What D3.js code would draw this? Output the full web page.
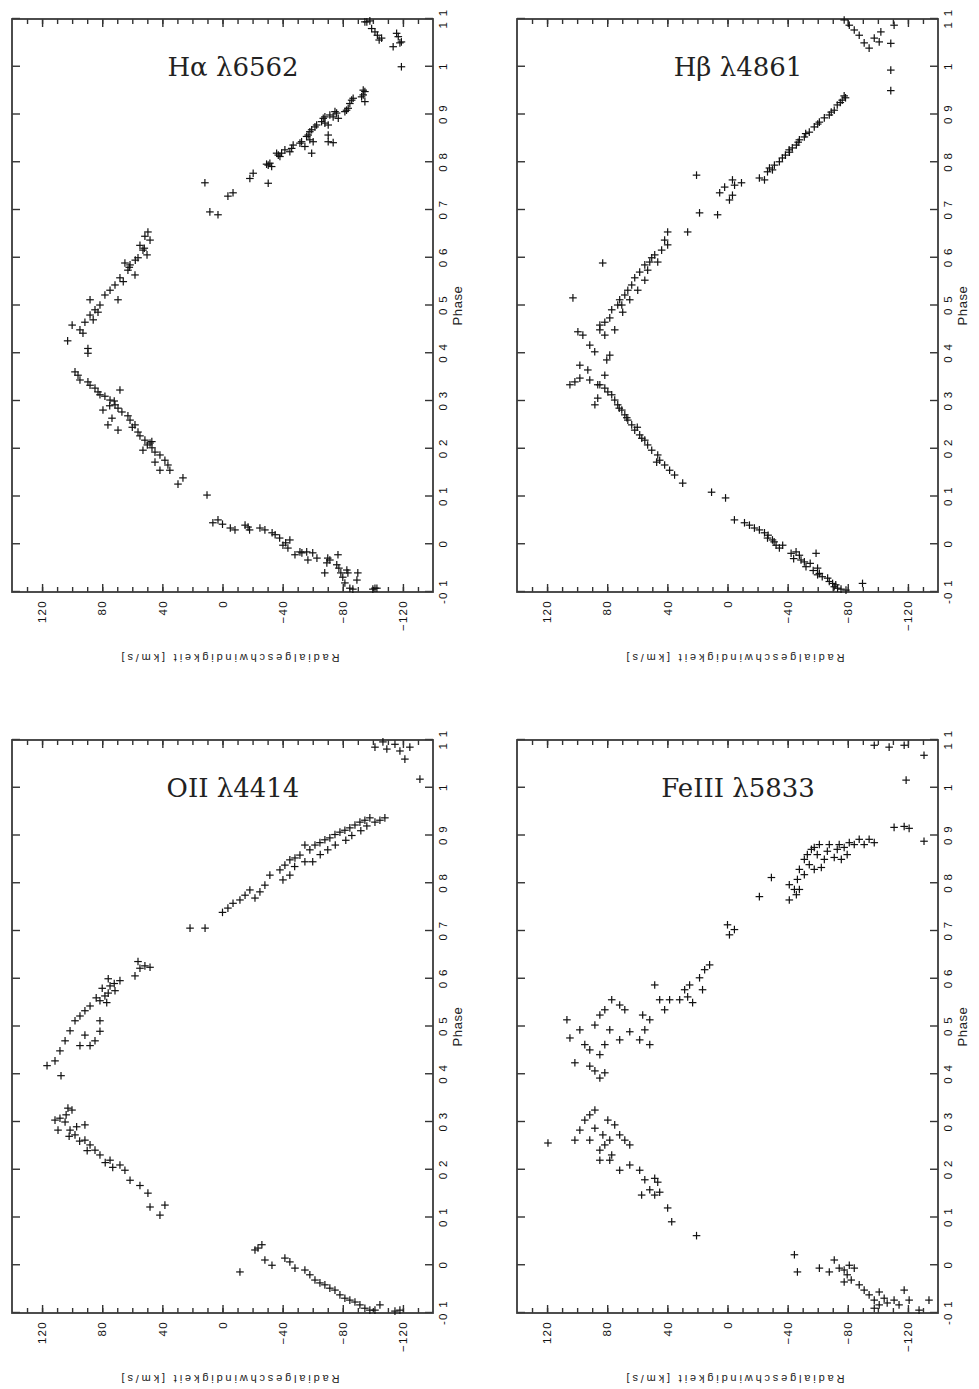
<!DOCTYPE html>
<html>
<head>
<meta charset="utf-8">
<script src="https://cdn.jsdelivr.net/npm/d3@7"></script>
<style>
body { margin: 0; background: #fff; }
.tick text { font-family: "Liberation Sans", Arial, sans-serif; font-size: 11.5px; letter-spacing: 1.3px; fill: #111; }
.tick line { stroke: #333; stroke-width: 1.4; }
.frame { fill: none; stroke: #3a3a3a; stroke-width: 1.8; }
.axlabel { font-family: "Liberation Sans", Arial, sans-serif; font-size: 11px; fill: #222; }
.title { font-family: "DejaVu Serif", serif; font-size: 26px; fill: #222; }
.pt { stroke: #111; stroke-width: 1.2; }
</style>
</head>
<body>
<div id="chart"></div>
<script>
var w = 979, h = 1389;
var pw = 573, ph = 421;   // phase extent, velocity extent (before rotation)

var phaseTicks = [-0.1, 0, 0.1, 0.2, 0.3, 0.4, 0.5, 0.6, 0.7, 0.8, 0.9, 1.0, 1.1];
var phaseLabels = ["-0 1", "0", "0 1", "0 2", "0 3", "0 4", "0 5", "0 6", "0 7", "0 8", "0 9", "1", "1 1"];
var velTicks = [120, 80, 40, 0, -40, -80, -120];
var velMinor = d3.range(-130, 140, 10);
var velDomain = [140, -140];
var phaseDomain = [-0.1, 1.1];
var titles = ["H\u03b1  \u03bb6562", "H\u03b2  \u03bb4861", "OII  \u03bb4414", "FeIII  \u03bb5833"];
var xLabel = "Phase", yLabel = "Radialgeschwindigkeit [km/s]";

// [phase, radial velocity km/s]
var haData = [
 [-0.002,-40.2],[0.003,-42],[-0.016,-51.5],[-0.018,-52.8],[-0.016,-56],[-0.033,-56.8],[-0.018,-60],[-0.029,-62.8],
 [-0.06,-68],[-0.039,-69.4],[-0.029,-70],[-0.033,-71.4],[-0.043,-76],[-0.022,-76.8],[-0.05,-77.4],[-0.06,-78.7],
 [-0.069,-80],[-0.081,-81.4],[-0.054,-82.7],[-0.06,-83.4],[-0.092,-84.7],[-0.094,-86.7],[-0.075,-89.4],[-0.06,-90],
 [-0.094,-100],[-0.092,-101.4],[-0.092,-102.7],
 [0.009,-44.8],[-0.008,-43.5],[-0.022,-48.2],[0.013,-38],[0.02,-35],[0.024,-33],[0.03,-28.2],[0.034,-24.9],
 [0.03,-18],[0.036,-17],[0.04,-15],[0.03,-8.3],[0.034,-5.2],[0.042,0],[0.051,3],[0.045,6.4],[0.103,10.3],
 [0.126,29.6],[0.139,26.3],[0.155,35],[0.166,36.3],[0.176,38.3],[0.187,41.6],[0.193,44.9],[0.202,46.9],
 [0.212,48.2],[0.218,51.6],[0.227,54.9],[0.235,56.2],[0.25,58.2],[0.26,61.5],[0.269,62.9],[0.277,66.9],
 [0.285,69.5],[0.292,71.5],[0.302,74.8],[0.31,78.2],[0.313,81.5],[0.319,82.8],[0.327,84.8],[0.333,88.1],
 [0.34,89.5],[0.344,94.8],[0.354,96.1],[0.361,98.1],[0.323,68.2],[0.264,73.5],[0.239,69.5],[0.25,76.2],
 [0.281,79.5],[0.197,52.9],[0.172,44.9],[0.155,41.6],[0.208,50],[0.215,47],[0.245,60],[0.29,75],[0.3,72],
 [0.426,103],[0.442,92.8],[0.4,89.5],[0.41,89.5],[0.459,100],
 [0.654,49.6],[0.645,51.6],[0.637,48.2],[0.626,54.9],[0.616,52.9],[0.606,50.2],[0.6,56.2],[0.585,61.5],
 [0.589,64.9],[0.574,62.9],[0.564,58.2],[0.558,68.2],[0.543,71.5],[0.532,74.8],[0.522,78.2],[0.512,69.5],
 [0.501,81.5],[0.491,84.8],[0.48,88.1],[0.465,91.5],[0.486,82.8],[0.512,88.1],[0.449,94.8],[0.47,86],
 [0.55,66],[0.595,58],[0.58,62],[0.62,52],
 [0.757,11.7],[0.696,8.4],[0.69,3],[0.729,-3.6],[0.736,-7],
 [0.951,-93.6],[0.948,-94.7],[0.941,-93.6],[0.937,-92.5],[0.927,-94.7],[0.934,-86.9],[0.93,-85.9],[0.923,-84.7],
 [0.913,-83.6],[0.909,-82.5],[0.906,-81.4],[0.903,-75.9],[0.906,-74.8],[0.892,-77],[0.895,-73.6],[0.899,-71.4],
 [0.895,-68.1],[0.892,-67],[0.885,-65.9],[0.878,-70.3],[0.882,-68.1],[0.878,-62.6],[0.874,-61.5],[0.868,-59.3],
 [0.864,-58.1],[0.857,-57],[0.854,-55.9],[0.847,-58.1],[0.843,-60.3],[0.857,-70.3],[0.843,-70.3],[0.841,-73.6],
 [0.819,-59.3],[0.833,-54.8],[0.843,-52.6],[0.84,-51.5],[0.836,-47],[0.822,-44.8],[0.829,-46],[0.826,-41.5],
 [0.819,-39.3],[0.815,-37.1],[0.819,-36],[0.812,-38.2],[0.798,-31.5],[0.794,-30.4],[0.796,-29.3],[0.791,-32.7],
 [0.756,-30.4],[0.777,-20.4],[0.766,-18.2],
 [1.094,-94.7],[1.094,-96],[1.096,-98],[1.08,-99.2],[1.073,-101.4],[1.066,-103],[1.056,-104.2],[1.06,-105.8],
 [1.042,-113.5],[1.07,-115.8],[1.063,-116.9],[1.05,-118],[1.052,-119],[1.0,-119]
];

var hbData = [
 [-0.002,-32.3],[-0.008,-34.5],[-0.002,-36.7],[-0.019,-42.3],[-0.016,-45.6],[-0.023,-47.8],[-0.033,-48.9],
 [-0.037,-51.1],[-0.047,-52.2],[-0.019,-58.9],[-0.05,-59.9],[-0.061,-61.1],[-0.064,-59.9],[-0.071,-66.6],
 [-0.078,-67.7],[-0.082,-69.9],[-0.089,-71],[-0.092,-73.2],[-0.094,-75.5],[-0.096,-78.8],[-0.082,-89.8],
 [-0.03,-44],[-0.04,-55],[-0.055,-57],[-0.068,-63],[-0.085,-72],
 [0.109,10.6],[0.097,1.3],[0.051,-4.6],[0.045,-11.3],[0.04,-14.6],[0.034,-17.9],[0.03,-21.2],[0.024,-24.6],
 [0.013,-26.6],[0.009,-29.9],[0.019,-27],[0.005,-31],
 [0.128,29.8],[0.145,35.2],[0.155,38.5],[0.166,41.8],[0.176,45.1],[0.187,46.4],[0.197,50.4],[0.208,53.1],
 [0.218,55],[0.229,58.4],[0.239,61.7],[0.25,63.7],[0.26,66.3],[0.271,68.3],[0.281,70.3],[0.292,73],
 [0.302,75],[0.313,77],[0.319,79.6],[0.327,81.6],[0.334,84.9],[0.172,47.1],[0.292,88.2],[0.306,86.3],
 [0.222,57],[0.245,60],[0.265,67],[0.285,72],
 [0.445,99.5],[0.438,96.2],[0.417,91.6],[0.403,88.3],[0.375,98.2],[0.365,92.9],[0.348,98.2],[0.344,91.6],
 [0.334,86.3],[0.34,101.5],[0.334,104.8],[0.354,81.6],[0.449,84.9],[0.438,81.6],[0.396,78.3],[0.386,80.3],
 [0.654,39.8],[0.637,41.8],[0.627,39.8],[0.616,43.8],[0.6,50.4],[0.591,51.7],[0.585,55],[0.574,53.1],
 [0.57,58.4],[0.558,61.7],[0.543,63.7],[0.532,66.3],[0.522,68.3],[0.512,71.7],[0.501,73],[0.491,77],
 [0.474,78.3],[0.465,81.6],[0.459,84.9],[0.449,75],[0.606,48.4],[0.591,46.4],[0.553,55],[0.532,59.7],
 [0.512,65],[0.501,70.3],[0.486,69.7],[0.589,83],[0.516,102.8],
 [0.757,-9.3],[0.752,-4.7],[0.748,1.9],[0.736,5.2],[0.731,-3.3],[0.721,-1.3],[0.69,6.6],[0.694,18.6],
 [0.773,20.6],[0.654,26.5],[0.763,-3.3],
 [0.939,-77.6],[0.93,-76.3],[0.92,-73],[0.909,-71],[0.899,-67.7],[0.893,-64.4],[0.884,-61.1],[0.874,-57.7],
 [0.863,-54.4],[0.853,-51.1],[0.847,-47.8],[0.836,-45.8],[0.83,-43.1],[0.821,-41.2],[0.815,-38.5],[0.809,-36.5],
 [0.801,-34.5],[0.794,-31.2],[0.788,-27.9],[0.78,-26.6],[0.784,-29.9],[0.767,-21.2],[0.763,-24.6],
 [0.935,-78.5],[0.925,-75],[0.905,-69],[0.88,-60],[0.86,-52],[0.842,-47],[0.826,-41],
 [1.073,-102],[1.087,-110.8],[1.049,-108.6],[1.052,-100.9],[0.993,-108.6],[0.95,-108.6],[1.098,-77.6],
 [1.087,-81],[1.077,-84.3],[1.066,-87.6],[1.05,-90.9],[1.039,-94.2],[1.06,-97.6]
];

var oiiData = [
 [1.085,-101.4],[1.096,-106.7],[1.081,-109.3],[1.091,-114.7],[1.077,-118],[1.06,-121.3],[1.085,-124.6],[1.018,-131.3],
 [0.706,21.6],[0.706,11.6],[0.739,0],[0.748,-3.6],[0.758,-7],[0.765,-11.6],[0.775,-15],[0.786,-18.2],
 [0.769,-21.6],[0.782,-24.9],[0.796,-28.2],[0.817,-31.5],[0.828,-38.2],[0.838,-41.5],[0.849,-44.8],[0.853,-48.2],
 [0.859,-51.5],[0.87,-58.1],[0.88,-61.5],[0.885,-64.8],[0.891,-68.1],[0.895,-71.4],[0.902,-74.8],[0.907,-78.1],
 [0.911,-81.4],[0.916,-84.7],[0.922,-88.1],[0.928,-91.4],[0.932,-94.7],[0.937,-98],[0.928,-101.4],[0.932,-104.7],
 [0.937,-108],[0.817,-44.8],[0.845,-54.8],[0.807,-40.2],[0.88,-54.8],[0.845,-60],[0.86,-65],[0.87,-70],
 [0.88,-75],[0.89,-82],[0.9,-86],[0.91,-92],[0.92,-96],[0.835,-48],
 [0.627,51.6],[0.622,54.9],[0.636,56.2],[0.624,48.2],[0.606,58.2],[0.596,68.2],[0.585,74.8],[0.575,71.5],
 [0.564,78.2],[0.554,81.5],[0.543,88.1],[0.533,91.5],[0.522,94.8],[0.512,98.1],[0.491,101.4],[0.47,104.7],
 [0.449,108.1],[0.428,111.4],[0.418,116.7],[0.397,107.4],[0.482,91.5],[0.47,84.8],[0.46,88.1],[0.46,94.8],
 [0.49,81.5],[0.512,81.5],[0.58,80],[0.57,76],[0.59,72],[0.6,76],[0.56,84],[0.55,77],
 [0.105,41.6],[0.126,38.3],[0.122,48.2],[0.151,49.6],[0.167,54.9],[0.178,61.5],[0.199,64.9],[0.21,68.2],
 [0.22,74.8],[0.231,81.5],[0.241,84.8],[0.252,88.1],[0.262,91.5],[0.273,98.1],[0.283,101.4],[0.3,104.7],
 [0.308,108.1],[0.329,102.8],[0.325,100.1],[0.283,109.4],[0.304,111.4],[0.294,91.5],[0.26,95],[0.27,102],
 [0.29,97],[0.315,104],[0.24,90],[0.215,78],[0.205,73],
 [-0.014,-11.6],[0.036,-23.6],[0.043,-26.2],[0.032,-21.6],[0.011,-28.2],[0,-32.9],[0.015,-41.5],[0.007,-44.8],
 [-0.006,-48.2],[-0.01,-54.8],[-0.02,-58.1],[-0.031,-61.5],[-0.037,-64.8],[-0.041,-68.1],[-0.048,-71.4],
 [-0.052,-74.8],[-0.062,-78.1],[-0.069,-81.4],[-0.073,-84.7],[-0.077,-88.1],[-0.083,-91.4],[-0.09,-94.7],
 [-0.094,-98],[-0.094,-101.4],[-0.096,-114.7],[-0.094,-118],[-0.083,-104.7]
];

var feiiiData = [
 [1.089,-97.6],[1.085,-107.5],[1.089,-117.5],[1.068,-130.7],[1.016,-118.8],
 [0.917,-110.8],[0.919,-117.5],[0.915,-120.8],[0.888,-130.7],
 [0.713,0],[0.692,-1.3],[0.703,-4.6],[0.772,-21.2],[0.812,-29.2],[0.797,-41.1],[0.787,-44.5],[0.808,-46.5],
 [0.829,-47.8],[0.85,-51.1],[0.86,-53.1],[0.871,-55.8],[0.875,-57.7],[0.86,-59.7],[0.881,-61.1],[0.85,-64.4],
 [0.867,-66.4],[0.881,-67.7],[0.854,-71],[0.871,-73],[0.881,-74.3],[0.875,-77.6],[0.885,-81],[0.881,-84.3],
 [0.892,-87.6],[0.86,-79.6],[0.85,-75.7],[0.833,-62.4],[0.829,-57.7],[0.839,-54.4],[0.818,-51.1],[0.787,-47.8],
 [0.776,-45.8],[0.765,-41.1],[0.881,-90.9],[0.892,-94.2],[0.885,-97.6],
 [0.619,15.2],[0.629,11.9],[0.577,16.6],[0.602,18.6],[0.587,25.2],[0.577,28.5],[0.556,31.8],[0.562,26.5],
 [0.55,23.2],[0.556,38.5],[0.556,45.1],[0.587,48.4],[0.535,41.8],[0.514,51.7],[0.524,56.4],[0.472,58.4],
 [0.462,51.7],[0.493,55],
 [0.514,106.8],[0.476,104.8],[0.493,98.2],[0.462,94.9],[0.451,91.6],[0.441,84.9],[0.462,81.6],[0.493,78.3],
 [0.503,88.2],[0.524,84.9],[0.535,81.6],[0.556,77],[0.545,71.7],[0.535,68.3],[0.407,88.2],[0.392,84.9],
 [0.403,81.6],[0.472,71.7],[0.489,65],[0.424,101.5],[0.417,91.6],
 [0.256,119.4],[0.062,20.6],
 [0.091,37.1],[0.12,39.8],[0.153,45.1],[0.147,48.4],[0.158,51.7],[0.179,55],[0.147,57.1],[0.174,46.4],
 [0.182,48.4],[0.241,84.9],[0.252,81.6],[0.262,78.3],[0.273,71.7],[0.262,68.3],[0.252,65],[0.294,75],
 [0.304,79.6],[0.325,88.2],[0.315,91.6],[0.304,94.9],[0.283,98.2],[0.262,101.5],[0.262,91.6],[0.22,78.3],
 [0.199,71.7],[0.21,65],[0.199,58.4],[0.22,84.9],[0.231,77],[0.287,88.2],[0.273,82.9],
 [0.022,-44.5],[-0.014,-46.5],[-0.006,-61.1],[-0.014,-67.7],[0.011,-71],[-0.006,-74.3],[-0.01,-77.6],
 [-0.02,-79.6],[0,-81],[-0.006,-84.3],[-0.031,-82.3],[-0.035,-77.6],[-0.041,-87.6],[-0.052,-90.9],
 [-0.062,-94.2],[-0.073,-97.6],[-0.056,-100.9],[-0.069,-104.2],[-0.079,-106.2],[-0.083,-100.9],[-0.09,-97.6],
 [-0.073,-110.8],[-0.083,-114.1],[-0.052,-117.5],[-0.073,-120.8],[-0.094,-127.4],[-0.073,-134]
];

var panels = [
    { title: titles[0], data: haData, left: 12, top: 19 },
    { title: titles[1], data: hbData, left: 517, top: 19 },
    { title: titles[2], data: oiiData, left: 12, top: 740 },
    { title: titles[3], data: feiiiData, left: 517, top: 740 }
];

var svg = d3.select("#chart")
    .append("svg")
    .attr("width", w)
    .attr("height", h);

var x = d3.scaleLinear().domain(phaseDomain).range([0, pw]);
var y = d3.scaleLinear().domain(velDomain).range([0, ph]);

function cleanAxis(g) {
    g.select(".domain").remove();
}

panels.forEach(function(p) {
    var outer = svg.append("g")
	.attr("transform", "translate(" + p.left + "," + p.top + ")");

    // the plot is drawn landscape and turned a quarter left
    var g = outer.append("g")
	.attr("transform", "translate(0," + pw + ") rotate(-90)");

    g.append("g")
	.attr("transform", "translate(0," + ph + ")")
	.call(d3.axisBottom(x)
	      .tickValues(phaseTicks)
	      .tickSizeInner(-8).tickSizeOuter(0)
	      .tickPadding(6)
	      .tickFormat(function(d, i) { return phaseLabels[i]; }))
	.call(cleanAxis);

    g.append("g")
	.call(d3.axisTop(x)
	      .tickValues(phaseTicks)
	      .tickSizeInner(-8).tickSizeOuter(0)
	      .tickFormat(""))
	.call(cleanAxis);

    g.append("g")
	.call(d3.axisLeft(y)
	      .tickValues(velTicks)
	      .tickSizeInner(-8).tickSizeOuter(0)
	      .tickPadding(8)
	      .tickFormat(d3.format("d")))
	.call(cleanAxis);

    g.append("g")
	.call(d3.axisLeft(y)
	      .tickValues(velMinor)
	      .tickSizeInner(-5).tickSizeOuter(0)
	      .tickFormat(""))
	.call(cleanAxis);

    g.append("g")
	.attr("transform", "translate(" + pw + ",0)")
	.call(d3.axisRight(y)
	      .tickValues(velTicks)
	      .tickSizeInner(-8).tickSizeOuter(0)
	      .tickFormat(""))
	.call(cleanAxis);

    g.append("g")
	.attr("transform", "translate(" + pw + ",0)")
	.call(d3.axisRight(y)
	      .tickValues(velMinor)
	      .tickSizeInner(-5).tickSizeOuter(0)
	      .tickFormat(""))
	.call(cleanAxis);

    g.append("rect")
	.attr("class", "frame")
	.attr("x", 0).attr("y", 0)
	.attr("width", pw).attr("height", ph);

    g.append("text")
	.attr("class", "axlabel")
	.attr("x", x(0.5))
	.attr("y", ph + 29)
	.attr("text-anchor", "middle")
	.style("font-size", "13px")
	.style("letter-spacing", "0.6px")
	.text(xLabel);

    g.append("text")
	.attr("class", "axlabel")
	.attr("transform", "translate(-61.5," + (ph / 2 + 8) + ") rotate(-90)")
	.attr("text-anchor", "middle")
	.attr("textLength", 218)
	.attr("lengthAdjust", "spacing")
	.text(yLabel);

    var pts = g.append("g")
	.selectAll(".pt")
	.data(p.data)
	.enter()
	.append("g")
	.attr("class", "pt")
	.attr("transform", function(d) { return "translate(" + x(d[0]) + "," + y(d[1]) + ")"; });
    pts.append("line").attr("x1", -3.8).attr("x2", 3.8);
    pts.append("line").attr("y1", -3.8).attr("y2", 3.8);

    outer.append("text")
	.attr("class", "title")
	.attr("x", 221)
	.attr("y", 57)
	.attr("text-anchor", "middle")
	.text(p.title);
});
</script>
</body>
</html>
